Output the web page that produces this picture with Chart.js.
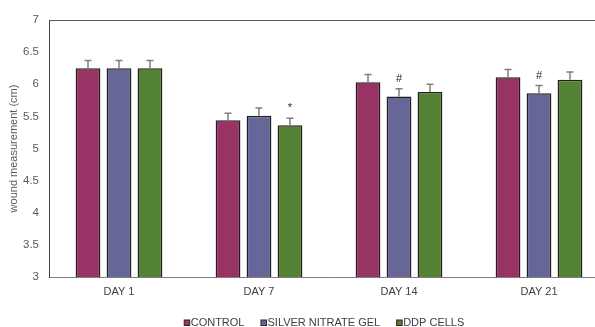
<!DOCTYPE html>
<html lang="en">
<head>
    <meta charset="UTF-8">
    <title>Wound measurement</title>
    <script src="https://cdn.jsdelivr.net/npm/chart.js"></script>
    <style>
        html, body {
            margin: 0;
            padding: 0;
            background: #fff;
            overflow: hidden;
        }
        #wrap {
            width: 595px;
            height: 327px;
            overflow: hidden;
        }
    </style>
</head>
<body>
    <div id="wrap">
        <canvas id="woundChart" width="640" height="327"></canvas>
    </div>

    <script>
        // data
        const days = ['DAY 1', 'DAY 7', 'DAY 14', 'DAY 21'];
        const seriesNames = ['CONTROL', 'SILVER NITRATE GEL', 'DDP CELLS'];
        const control = [6.25, 5.44, 6.03, 6.11];
        const silverGel = [6.25, 5.51, 5.81, 5.86];
        const ddpCells = [6.25, 5.36, 5.88, 6.07];
        const controlErr = [0.12, 0.11, 0.12, 0.12];
        const silverErr = [0.12, 0.12, 0.12, 0.12];
        const ddpErr = [0.12, 0.11, 0.12, 0.12];
        const controlMarks = ['', '', '', ''];
        const silverMarks = ['', '', '#', '#'];
        const ddpMarks = ['', '*', '', ''];
        const yTicks = [3, 3.5, 4, 4.5, 5, 5.5, 6, 6.5, 7];

        const colors = ['#993366', '#666699', '#548235'];
        const values = [control, silverGel, ddpCells];
        const errors = [controlErr, silverErr, ddpErr];
        const marks = [controlMarks, silverMarks, ddpMarks];
        const FONT = "'Liberation Sans', Arial, sans-serif";

        // error bars, significance marks, top frame line and legend
        const extras = {
            id: 'extras',
            afterDatasetsDraw(chart) {
                const ctx = chart.ctx;
                const y = chart.scales.y;
                const area = chart.chartArea;
                ctx.save();

                ctx.strokeStyle = '#595959';
                ctx.lineWidth = 1;
                ctx.beginPath();
                ctx.moveTo(area.left, area.top + 0.5);
                ctx.lineTo(area.right, area.top + 0.5);
                ctx.stroke();

                chart.data.datasets.forEach((ds, i) => {
                    const meta = chart.getDatasetMeta(i);
                    meta.data.forEach((bar, j) => {
                        const top = y.getPixelForValue(ds.data[j]);
                        const errTop = y.getPixelForValue(ds.data[j] + errors[i][j]);
                        ctx.strokeStyle = '#7f7f7f';
                        ctx.lineWidth = 1.5;
                        ctx.beginPath();
                        ctx.moveTo(bar.x, top);
                        ctx.lineTo(bar.x, errTop);
                        ctx.moveTo(bar.x - 3.5, errTop);
                        ctx.lineTo(bar.x + 3.5, errTop);
                        ctx.stroke();
                        if (marks[i][j]) {
                            ctx.fillStyle = '#262626';
                            ctx.font = '11px ' + FONT;
                            ctx.textAlign = 'center';
                            ctx.textBaseline = 'middle';
                            ctx.fillText(marks[i][j], bar.x, errTop - 10);
                        }
                    });
                });

                // legend
                ctx.font = '11px ' + FONT;
                ctx.textBaseline = 'middle';
                ctx.textAlign = 'left';
                const gap = 17;
                const widths = seriesNames.map(n => 6 + ctx.measureText(n).width);
                const total = widths.reduce((a, b) => a + b, 0) + gap * (widths.length - 1);
                let x = 324 - total / 2;
                const ly = 323;
                seriesNames.forEach((name, i) => {
                    ctx.fillStyle = colors[i];
                    ctx.fillRect(x, ly - 3, 5.5, 5.5);
                    ctx.strokeStyle = '#262626';
                    ctx.lineWidth = 1;
                    ctx.strokeRect(x, ly - 3, 5.5, 5.5);
                    ctx.fillStyle = '#404040';
                    ctx.fillText(name, x + 6.5, ly);
                    x += widths[i] + gap;
                });
                ctx.restore();
            }
        };

        const ctx = document.getElementById('woundChart').getContext('2d');
        new Chart(ctx, {
            type: 'bar',
            data: {
                labels: days,
                datasets: seriesNames.map((name, i) => ({
                    label: name,
                    data: values[i],
                    backgroundColor: colors[i],
                    borderColor: '#1f1f1f',
                    borderWidth: 1.5,
                    barPercentage: 0.8,
                    categoryPercentage: 0.664
                }))
            },
            options: {
                responsive: false,
                animation: false,
                layout: {
                    padding: { left: 0, top: 20, right: 31, bottom: 0 }
                },
                plugins: {
                    legend: { display: false },
                    tooltip: { enabled: false }
                },
                scales: {
                    x: {
                        grid: { display: false, drawTicks: false },
                        border: { display: true, color: '#7f7f7f', width: 1 },
                        ticks: {
                            color: '#404040',
                            font: { family: FONT, size: 11 },
                            padding: 8
                        },
                        afterFit: s => { s.height = 50; }
                    },
                    y: {
                        min: 3,
                        max: 7,
                        afterBuildTicks: s => { s.ticks = yTicks.map(v => ({ value: v })); },
                        grid: { display: false, drawTicks: false },
                        border: { display: true, color: '#404040', width: 1 },
                        ticks: {
                            color: '#595959',
                            font: { family: FONT, size: 11.5 },
                            padding: 10,
                            callback: v => String(v)
                        },
                        title: {
                            display: true,
                            text: 'wound measurement (cm)',
                            color: '#595959',
                            font: { family: FONT, size: 11 },
                            padding: { top: 7, bottom: 0 }
                        },
                        afterFit: s => { s.width = 49; }
                    }
                }
            },
            plugins: [extras]
        });
    </script>
</body>
</html>
